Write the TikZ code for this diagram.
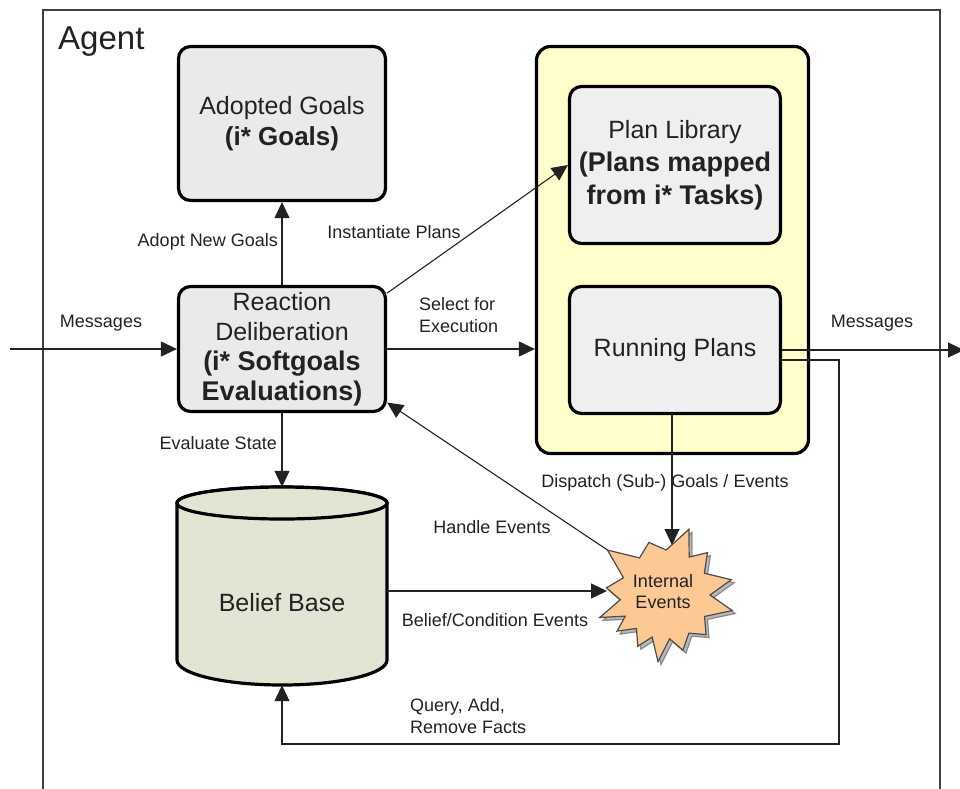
\documentclass[tikz,border=0pt]{standalone}
\usepackage{fontspec}
\setmainfont{Liberation Sans}
\usetikzlibrary{arrows.meta,calc}

\definecolor{goalgray}{HTML}{EAEAEA}
\definecolor{plangray}{HTML}{EFEFEF}
\definecolor{planyellow}{HTML}{FFFFCC}
\definecolor{beliefbeige}{HTML}{E4E4D4}
\definecolor{eventorange}{HTML}{FCC995}
\definecolor{inkgray}{HTML}{222222}

\begin{document}
\begin{tikzpicture}[x=1pt,y=-1pt,
  box/.style={draw=black, line width=3.2pt, rounded corners=12pt, fill=goalgray,
    align=center, inner sep=0pt, text=inkgray, font={\fontsize{25}{31}\selectfont}},
  conn/.style={line width=1.1pt, draw=inkgray},
  arr/.style={conn, -{Triangle[length=16pt,width=15pt]}},
  lbl/.style={font={\fontsize{18}{22}\selectfont}, text=inkgray, inner sep=0pt, align=left},
]
\useasboundingbox (0,0) rectangle (960,788);

% agent boundary (its lower edge lies below the page)
\node[draw=black!75, line width=1.5pt, minimum width=897, minimum height=790, inner sep=0pt] (agent) at (491.5,405) {};
\node[anchor=west, inner sep=0pt, text=inkgray, font={\fontsize{33}{38}\selectfont}] (agentlbl) at (58,42) {Agent};

% goals and deliberation
\node[box, minimum width=207, minimum height=154] (ag) at (282,123.5)
  {Adopted Goals\\{\bfseries\fontsize{26}{31}\selectfont (i* Goals)}};
\node[box, minimum width=207, minimum height=125, font={\fontsize{25}{30}\selectfont}] (rd) at (282,349)
  {Reaction\\Deliberation\\{\bfseries\fontsize{27}{30}\selectfont (i* Softgoals}\\{\bfseries\fontsize{27}{30}\selectfont Evaluations)}};

% plan container
\node[box, fill=planyellow, rounded corners=14pt, minimum width=272, minimum height=407] (yc) at (672.5,250) {};
\node[box, fill=plangray, minimum width=211, minimum height=157, font={\fontsize{25}{33}\selectfont}] (pl) at (675,165)
  {Plan Library\\{\bfseries\fontsize{27}{33}\selectfont (Plans mapped}\\{\bfseries\fontsize{27}{33}\selectfont from i* Tasks)}};
\node[box, fill=plangray, minimum width=211, minimum height=127] (rp) at (675,350) {Running Plans};

% belief base cylinder
\draw[draw=black, line width=3.2pt, fill=beliefbeige]
  (177,503) -- (177,660) arc[start angle=180, end angle=360, x radius=105pt, y radius=25pt]
  -- (387,503) arc[start angle=0, end angle=180, x radius=105pt, y radius=16pt] -- cycle;
\draw[draw=black, line width=3.2pt, fill=beliefbeige] (282,503) ellipse[x radius=105pt, y radius=16pt];
\node[inner sep=0pt, minimum width=210, minimum height=198, text height=50pt, text depth=0pt,
      text=inkgray, font={\fontsize{25}{30}\selectfont}] (bb) at (282,586) {Belief Base};

% internal events burst
\begin{scope}[shift={(665,595)}]
  \foreach \dx/\dy/\col/\op in {3/3/gray/0.55, 0/0/eventorange/1} {
    \filldraw[shift={(\dx,\dy)}, fill=\col, fill opacity=\op,
      draw=black!70, draw opacity=\op, line width=1.2pt, line join=miter]
      (-70:70) -- (-57.5:45) -- (-45:60) -- (-29:45) -- (-13:68) -- (0:45)
      -- (13:69) -- (28.5:45) -- (44:57) -- (58:45) -- (72:58) -- (84:44)
      -- (96:67) -- (107:44) -- (118:58) -- (130.5:44) -- (143:60) -- (152:45)
      -- (161:69) -- (174:45) -- (187:59) -- (202.5:45) -- (218:73) -- (235.5:45)
      -- (253:55) -- (271.5:45) -- cycle;
  }
  \coordinate (evtop) at (7,-50);
  \coordinate (evleft) at (-58,-4);
  \coordinate (evul) at (218:73);
\end{scope}
\node[align=center, inner sep=0pt, text=inkgray, font={\fontsize{18}{21}\selectfont}] (ev) at (663,592) {Internal\\Events};

% free ends and bends
\coordinate (msgin) at (10,349);
\coordinate (msgout) at (964,350);
\coordinate (qc) at (839,744);

% connectors
\draw[arr] (msgin) -- (rd.west);
\draw[arr] (rd.north) -- (ag.south);
\draw[arr] (rd.28) -- (pl.west);
\draw[arr] (rd.east) -- (rd.east -| yc.west);
\draw[arr] (rp.east) -- (msgout);
\draw[arr] (rd.south) -- (bb.north);
\draw[arr] (rp.south -| evtop) -- (evtop);
\draw[arr] (evul) -- (rd.-27);
\draw[arr] (bb.east |- evleft) -- (evleft);
\draw[arr] ([yshift=-10pt]rp.east) -| (qc) -| (bb.south);

% connector labels
\node[lbl] (lmsgin) at (101,323) {Messages};
\node[lbl, anchor=east] (ladopt) at (278,242) {Adopt New Goals};
\node[lbl] (linst) at (394,232) {Instantiate Plans};
\node[lbl, anchor=west] (lsel) at (419,315) {Select for\\Execution};
\node[lbl] (lmsgout) at (872,323) {Messages};
\node[lbl, anchor=east] (leval) at (277,443) {Evaluate State};
\node[lbl] (ldisp) at (665,483) {Dispatch (Sub-) Goals / Events};
\node[lbl] (lhandle) at (492,527) {Handle Events};
\node[lbl] (lbel) at (495,620) {Belief/Condition Events};
\node[lbl, anchor=west] (lquery) at (410,716) {Query, Add,\\Remove Facts};
\end{tikzpicture}
\end{document}
